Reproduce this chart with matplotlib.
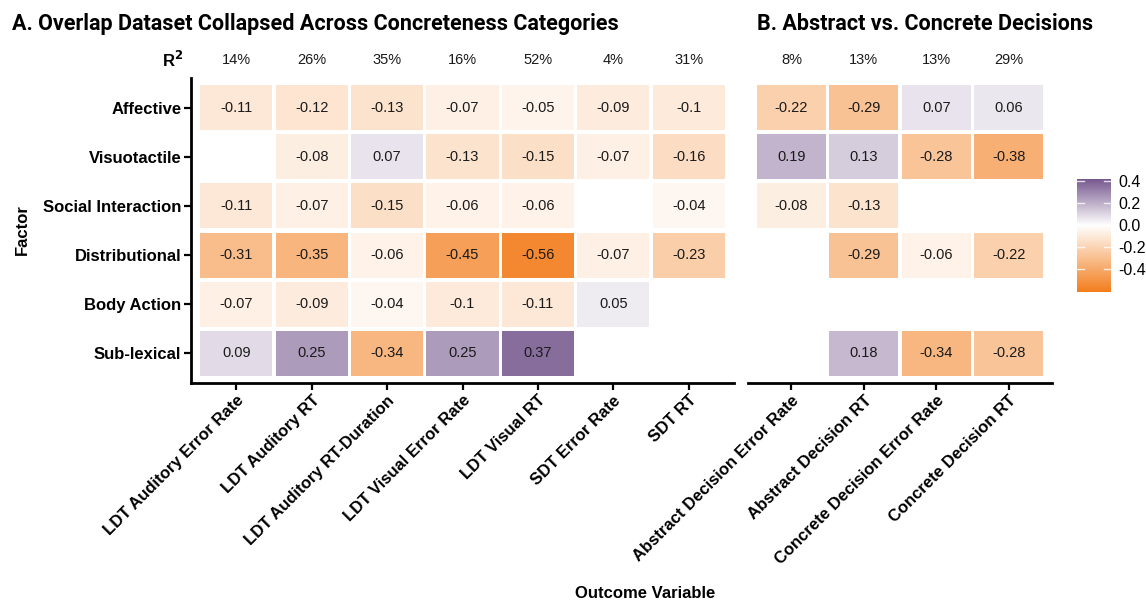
import numpy as np
import matplotlib
matplotlib.use("Agg")
import matplotlib.pyplot as plt
from matplotlib.colors import LinearSegmentedColormap, TwoSlopeNorm
from matplotlib.patches import Rectangle

nan = np.nan
factors = ["Affective", "Visuotactile", "Social Interaction", "Distributional", "Body Action", "Sub-lexical"]

outcomes_a = ["LDT Auditory Error Rate", "LDT Auditory RT", "LDT Auditory RT-Duration",
              "LDT Visual Error Rate", "LDT Visual RT", "SDT Error Rate", "SDT RT"]
r2_a = [14, 26, 35, 16, 52, 4, 31]
affective_a = [-0.11, -0.12, -0.13, -0.07, -0.05, -0.09, -0.1]
visuotactile_a = [nan, -0.08, 0.07, -0.13, -0.15, -0.07, -0.16]
social_a = [-0.11, -0.07, -0.15, -0.06, -0.06, nan, -0.04]
distributional_a = [-0.31, -0.35, -0.06, -0.45, -0.56, -0.07, -0.23]
body_a = [-0.07, -0.09, -0.04, -0.1, -0.11, 0.05, nan]
sublexical_a = [0.09, 0.25, -0.34, 0.25, 0.37, nan, nan]

outcomes_b = ["Abstract Decision Error Rate", "Abstract Decision RT",
              "Concrete Decision Error Rate", "Concrete Decision RT"]
r2_b = [8, 13, 13, 29]
affective_b = [-0.22, -0.29, 0.07, 0.06]
visuotactile_b = [0.19, 0.13, -0.28, -0.38]
social_b = [-0.08, -0.13, nan, nan]
distributional_b = [nan, -0.29, -0.06, -0.22]
body_b = [nan, nan, nan, nan]
sublexical_b = [nan, 0.18, -0.34, -0.28]

mat_a = np.array([affective_a, visuotactile_a, social_a, distributional_a, body_a, sublexical_a])
mat_b = np.array([affective_b, visuotactile_b, social_b, distributional_b, body_b, sublexical_b])

W, H = 1146, 604
fig = plt.figure(figsize=(W / 100, H / 100), dpi=100)

cmap = LinearSegmentedColormap.from_list("po", ["#F37E1E", "#FFFFFF", "#77598F"])
norm = TwoSlopeNorm(vmin=-0.61, vcenter=0.0, vmax=0.42)

BODY = "Liberation Sans"
TITLE = "Roboto"

def fx(px):
    return px / W

def fy(py):
    return 1 - py / H

def panel(rect, mat, outcomes, r2, show_y):
    ax = fig.add_axes(rect)
    nr, nc = mat.shape
    for i in range(nr):
        for j in range(nc):
            v = mat[i, j]
            if np.isnan(v):
                continue
            w, h = 0.955, 0.915
            ax.add_patch(Rectangle((j - w / 2, i - h / 2), w, h,
                                   facecolor=cmap(norm(v)), edgecolor="none"))
            ax.text(j, i, f"{v:g}", ha="center", va="center", fontsize=10.5,
                    family=BODY, color="#1a1a1a")
    ax.set_xlim(-0.6, nc - 0.4)
    ax.set_ylim(nr - 0.4, -0.6)
    ax.set_xticks(range(nc))
    ax.set_xticklabels(outcomes, rotation=45, ha="right", rotation_mode="anchor",
                       fontsize=12, fontweight="bold", family=BODY)
    ax.spines["top"].set_visible(False)
    ax.spines["right"].set_visible(False)
    ax.spines["bottom"].set_linewidth(2)
    ax.spines["left"].set_linewidth(2)
    ax.tick_params(axis="both", length=5, width=1.6, color="black", pad=2)
    if show_y:
        ax.set_yticks(range(nr))
        ax.set_yticklabels(factors, fontsize=12, fontweight="bold", family=BODY)
    else:
        ax.spines["left"].set_visible(False)
        ax.set_yticks([])
    for j, r in enumerate(r2):
        ax.text(j, -0.6 - 18 / 49.2, f"{r}%", ha="center", va="center",
                fontsize=10.5, family=BODY, color="#1a1a1a", clip_on=False)
    return ax

axA = panel([fx(191), fy(383), fx(734 - 191), (383 - 78) / H], mat_a, outcomes_a, r2_a, True)
axB = panel([fx(748), fy(383), fx(1052 - 748), (383 - 78) / H], mat_b, outcomes_b, r2_b, False)

axA.text(-0.6 - 8 / 75.4, -0.6 - 18 / 49.2, "R$^\\mathbf{2}$", ha="right", va="center",
         fontsize=12, fontweight="bold", family=BODY, clip_on=False)

fig.text(fx(12), fy(24), "A. Overlap Dataset Collapsed Across Concreteness Categories",
         ha="left", va="center", fontsize=15.5, fontweight="bold", family=TITLE)
fig.text(fx(757), fy(24), "B. Abstract vs. Concrete Decisions",
         ha="left", va="center", fontsize=15.5, fontweight="bold", family=TITLE)
fig.text(fx(22), fy(230), "Factor", rotation=90, ha="center", va="center",
         fontsize=12, fontweight="bold", family=BODY)
fig.text(fx(645), fy(593), "Outcome Variable", ha="center", va="center",
         fontsize=12, fontweight="bold", family=BODY)

# colorbar
cax = fig.add_axes([fx(1077), fy(292), fx(1111 - 1077), (292 - 179) / H])
grad = np.linspace(-0.61, 0.42, 256).reshape(-1, 1)
cax.imshow(grad, aspect="auto", cmap=cmap, norm=norm, origin="lower",
           extent=[0, 1, -0.61, 0.42])
cax.set_xlim(0, 1)
cax.set_ylim(-0.61, 0.42)
cax.set_xticks([])
cbticks = [-0.4, -0.2, 0.0, 0.2, 0.4]
cax.set_yticks(cbticks)
cax.set_yticklabels([f"{t:.1f}" for t in cbticks], fontsize=11.5, family=BODY)
cax.yaxis.tick_right()
cax.tick_params(axis="y", length=0, pad=5)
for t in cbticks:
    cax.plot([0, 0.2], [t, t], color="white", lw=1, alpha=0.8)
    cax.plot([0.8, 1], [t, t], color="white", lw=1, alpha=0.8)
for s in cax.spines.values():
    s.set_visible(False)

fig.savefig("out.png", dpi=100)
